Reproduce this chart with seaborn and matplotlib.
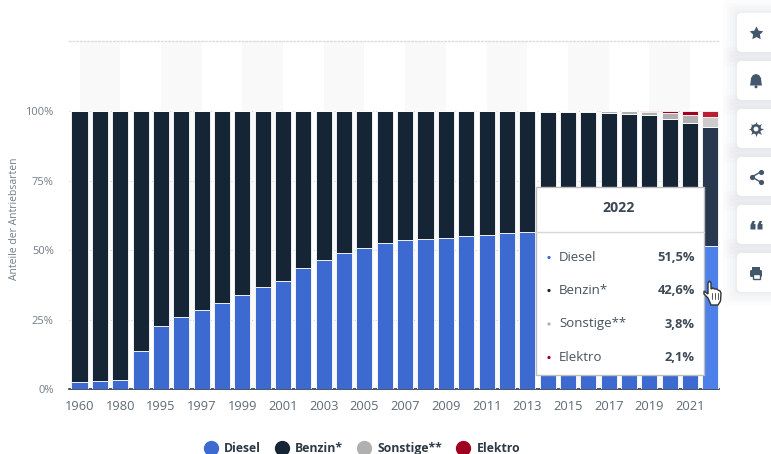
import numpy as np
import seaborn as sns
import matplotlib.pyplot as plt
from matplotlib.lines import Line2D
from matplotlib.patches import FancyBboxPatch, Polygon, Circle, Rectangle

# Data
years = ["1960", "1970", "1980", "1990"] + [str(y) for y in range(1995, 2023)]
diesel = [2.5, 2.8, 3.2, 13.5, 22.8, 25.8, 28.5, 31.0, 33.7, 36.7, 39.0, 43.5, 46.5, 49.0, 50.8, 52.7,
          53.5, 54.0, 54.3, 55.2, 55.5, 56.0, 56.5, 56.6, 56.5, 56.0, 55.5, 54.9, 54.4, 53.9, 52.9, 51.5]
benzin = [97.5, 97.2, 96.8, 86.5, 77.2, 74.2, 71.5, 69.0, 66.3, 63.3, 61.0, 56.5, 53.5, 51.0, 49.2, 47.3,
          46.5, 46.0, 45.7, 44.8, 44.5, 44.0, 43.5, 43.0, 43.1, 43.5, 43.7, 43.9, 44.1, 43.2, 42.9, 42.6]
sonstige = [0, 0, 0, 0, 0, 0, 0, 0, 0, 0, 0, 0, 0, 0, 0, 0,
            0, 0, 0, 0, 0, 0, 0, 0.4, 0.4, 0.5, 0.8, 1.1, 1.3, 2.2, 2.9, 3.8]
elektro = [0, 0, 0, 0, 0, 0, 0, 0, 0, 0, 0, 0, 0, 0, 0, 0,
           0, 0, 0, 0, 0, 0, 0, 0, 0, 0, 0, 0.1, 0.2, 0.7, 1.3, 2.1]

series_names = ["Diesel", "Benzin*", "Sonstige**", "Elektro"]
series_values = [diesel, benzin, sonstige, elektro]
series_colors = ["#3c6ad1", "#162535", "#b0b0b0", "#a00020"]
hover_colors = ["#4d80e8", "#28394f", "#cccccc", "#b81f33"]
tooltip_year = "2022"
tooltip_values = ["51,5%", "42,6%", "3,8%", "2,1%"]

sns.set_theme(style="white")
plt.rcParams["font.family"] = ["Open Sans", "DejaVu Sans"]

W, H = 771, 454
fig = plt.figure(figsize=(W / 100, H / 100), dpi=100, facecolor="white")
ax = fig.add_axes([69 / W, (H - 389) / H, 650 / W, 348 / H])

# Stacked bars
bottom = np.zeros(len(years))
for vals, col, hover in zip(series_values, series_colors, hover_colors):
    sns.barplot(x=years, y=vals, bottom=bottom, color=col, width=0.79, saturation=1,
                edgecolor="white", linewidth=0.6, ax=ax, zorder=3)
    ax.containers[-1][-1].set_facecolor(hover)
    bottom = bottom + np.array(vals)

ax.set_xlim(-0.516, 31.42)
ax.set_ylim(0, 125.2)

# Stripes behind the bars
for i in range(0, len(years), 4):
    ax.axvspan(i, i + 2, color="#f9f9f9", lw=0, zorder=0)

ax.set_yticks([0, 25, 50, 75, 100])
ax.set_yticklabels(["0%", "25%", "50%", "75%", "100%"], fontsize=8, color="#737d87")
ax.set_xticks(range(0, len(years), 2))
ax.set_xticklabels(years[::2], fontsize=9.3, color="#5f6a75")
ax.tick_params(axis="y", length=0, pad=11)
ax.tick_params(axis="x", length=0, pad=8)
ax.set_ylabel("Anteile der Antriebsarten", fontsize=7.5, color="#737d87")
ax.yaxis.set_label_coords(-49 / 650, 0.49)
ax.grid(axis="y", color="#d5d5d5", lw=0.8, ls=":", zorder=1)
ax.set_axisbelow(True)

for side in ["left", "right"]:
    ax.spines[side].set_visible(False)
ax.spines["top"].set_linestyle(":")
ax.spines["top"].set_color("#dcdcdc")
ax.spines["top"].set_linewidth(1)
ax.spines["bottom"].set_color("#2c3742")
ax.spines["bottom"].set_linewidth(1.2)

# Legend
handles = [Line2D([], [], ls="", marker="o", ms=10, color=c) for c in series_colors]
leg = fig.legend(handles, series_names, loc="center left", bbox_to_anchor=(204.5 / W, 1 - 448.5 / H),
                 ncol=4, frameon=False, fontsize=8.8, handlelength=1, handletextpad=0.6, columnspacing=1.2,
                 borderpad=0, borderaxespad=0)
for t in leg.get_texts():
    t.set_color("#2e3a46")
    t.set_fontweight("bold")

# Overlay in pixel coordinates for tooltip and side buttons
ov = fig.add_axes([0, 0, 1, 1], zorder=10)
ov.set_xlim(0, W)
ov.set_ylim(H, 0)
ov.axis("off")
ov.patch.set_alpha(0)

# Tooltip
ov.add_patch(Rectangle((536, 187), 168, 188, fc="white", ec="#bdbdbd", lw=1))
ov.plot([536, 704], [232, 232], color="#d6d6d6", lw=1)
ov.text(619, 208.5, tooltip_year, ha="center", va="center", fontsize=10.2, fontweight="bold", color="#3a4652")
for name, val, col, y in zip(series_names, tooltip_values, series_colors, [257.5, 290.5, 324, 357.5]):
    ov.add_patch(Circle((549, y), 1.6, fc=col, ec="none"))
    ov.text(559, y, name, ha="left", va="center", fontsize=9.5, color="#46525e")
    ov.text(695, y, val, ha="right", va="center", fontsize=9.3, fontweight="bold", color="#3e4a56")

# Hand cursor
hand = [(708, 298), (704, 294), (704, 291), (708, 294), (708, 283), (709.5, 281), (711, 283), (711, 289),
        (713, 288), (714.5, 289), (716.5, 289), (718, 290), (720, 291), (721, 293), (720.5, 301), (718, 305),
        (711, 305)]
ov.add_patch(Polygon(hand, closed=True, fc="white", ec="#333333", lw=1, zorder=12))
for xf in [711.5, 714.5, 717.5]:
    ov.plot([xf, xf], [293, 299], color="#555555", lw=0.7, zorder=13)

# Side buttons
card_tops = [13, 61, 109, 157, 205, 253]
icon_col = "#44566c"
for top in card_tops:
    for grow, alpha in [(14, 0.012), (10, 0.012), (7, 0.014), (4, 0.016), (2, 0.018)]:
        ov.add_patch(FancyBboxPatch((737 - grow, top - grow), 60 + 2 * grow, 39 + 2 * grow,
                                    boxstyle="round,pad=0,rounding_size=6", fc="#33405a", ec="none",
                                    alpha=alpha, zorder=1))
for top in card_tops:
    ov.add_patch(FancyBboxPatch((737, top), 60, 39, boxstyle="round,pad=0,rounding_size=5",
                                fc="white", ec="none", zorder=2))

cx = 756
# star
ov.scatter([cx], [33], marker=(5, 1), s=105, color=icon_col, lw=0, zorder=5)
# bell
bell = [(750, 85.5), (750.5, 83), (751, 78), (753, 75), (756, 74), (759, 75), (761, 78), (761.5, 83), (762, 85.5)]
ov.add_patch(Polygon(bell, closed=True, fc=icon_col, ec="none", zorder=5))
ov.add_patch(Circle((756, 86.8), 1.5, fc=icon_col, ec="none", zorder=5))
# gear
ov.scatter([cx], [129], marker=(8, 1, 0), s=120, color=icon_col, lw=0, zorder=5)
ov.add_patch(Circle((cx, 129), 5, fc=icon_col, ec="none", zorder=5))
ov.add_patch(Circle((cx, 129), 2.4, fc="white", ec="none", zorder=6))
# share
pts = [(760.5, 172), (752, 177), (760.5, 182)]
ov.plot([p[0] for p in pts], [p[1] for p in pts], color=icon_col, lw=1, zorder=5)
ov.scatter([p[0] for p in pts], [p[1] for p in pts], s=14, color=icon_col, lw=0, zorder=5)
# quotes
for qx in [750.5, 757.5]:
    ov.add_patch(Polygon([(qx, 225), (qx + 2, 221), (qx + 4.5, 221), (qx + 3.5, 224), (qx + 5, 224),
                          (qx + 5, 229.5), (qx, 229.5)], closed=True, fc=icon_col, ec="none", zorder=5))
# printer
ov.add_patch(FancyBboxPatch((750, 270), 12, 7, boxstyle="round,pad=0,rounding_size=1.5", fc=icon_col, ec="none", zorder=5))
ov.add_patch(Rectangle((752, 267), 8, 3, fc=icon_col, ec="none", zorder=5))
ov.add_patch(Rectangle((752.5, 274), 7, 5, fc="white", ec=icon_col, lw=1, zorder=6))

fig.savefig("out.png", dpi=100, facecolor="white")
plt.close(fig)
